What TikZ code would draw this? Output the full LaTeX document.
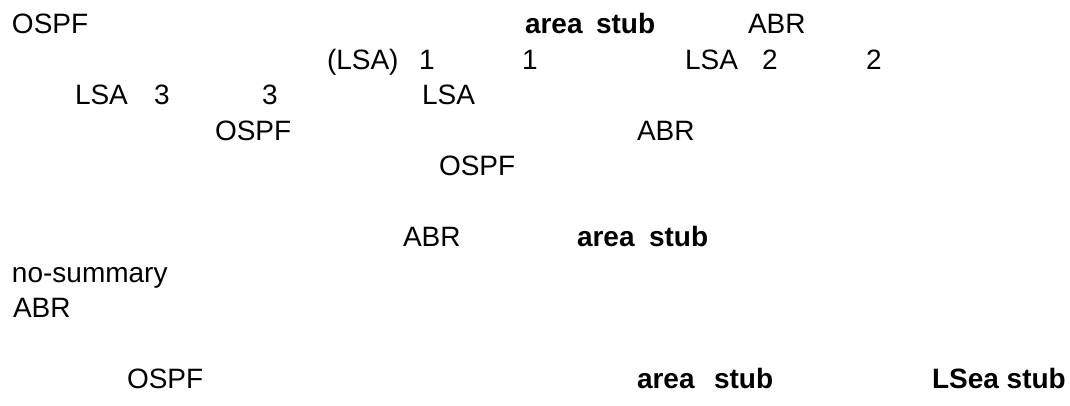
\documentclass[tikz,border=0pt]{standalone}
\usepackage{fontspec}
\setmainfont{Liberation Sans}
\begin{document}
\begin{tikzpicture}[x=1pt,y=-1pt,
  txt/.style={inner sep=0pt, outer sep=0pt, anchor=base west, font=\fontsize{28}{33}\selectfont},
  bold/.style={txt, font=\fontsize{28}{33}\selectfont\bfseries}]
\useasboundingbox[fill=white] (0,0) rectangle (1070,405);
% row 0
\node[txt]  (r0a) at (12,33.7) {OSPF};
\node[bold] (r0b) at (525,33.7) {area};
\node[bold] (r0c) at (596,33.7) {stub};
\node[txt]  (r0d) at (748,33.7) {ABR};
% row 1
\node[txt] (r1a) at (327,69.2) {(LSA)};
\node[txt] (r1b) at (419,69.2) {1};
\node[txt] (r1c) at (522,69.2) {1};
\node[txt] (r1d) at (685,69.2) {LSA};
\node[txt] (r1e) at (762,69.2) {2};
\node[txt] (r1f) at (866,69.2) {2};
% row 2
\node[txt] (r2a) at (75,104.7) {LSA};
\node[txt] (r2b) at (154,104.7) {3};
\node[txt] (r2c) at (262,104.7) {3};
\node[txt] (r2d) at (422,104.7) {LSA};
% row 3
\node[txt] (r3a) at (215,140.2) {OSPF};
\node[txt] (r3b) at (637,140.2) {ABR};
% row 4
\node[txt] (r4a) at (439,175.7) {OSPF};
% row 6
\node[txt]  (r6a) at (403,246.7) {ABR};
\node[bold] (r6b) at (577,246.7) {area};
\node[bold] (r6c) at (649,246.7) {stub};
% row 7
\node[txt] (r7a) at (12,282.2) {no-summary};
% row 8
\node[txt] (r8a) at (13,317.7) {ABR};
% row 10
\node[txt]  (r10a) at (127,388.7) {OSPF};
\node[bold] (r10b) at (637,388.7) {area};
\node[bold] (r10c) at (714,388.7) {stub};
\node[bold] (r10d) at (932,388.7) {LSea stub};
\end{tikzpicture}
\end{document}
